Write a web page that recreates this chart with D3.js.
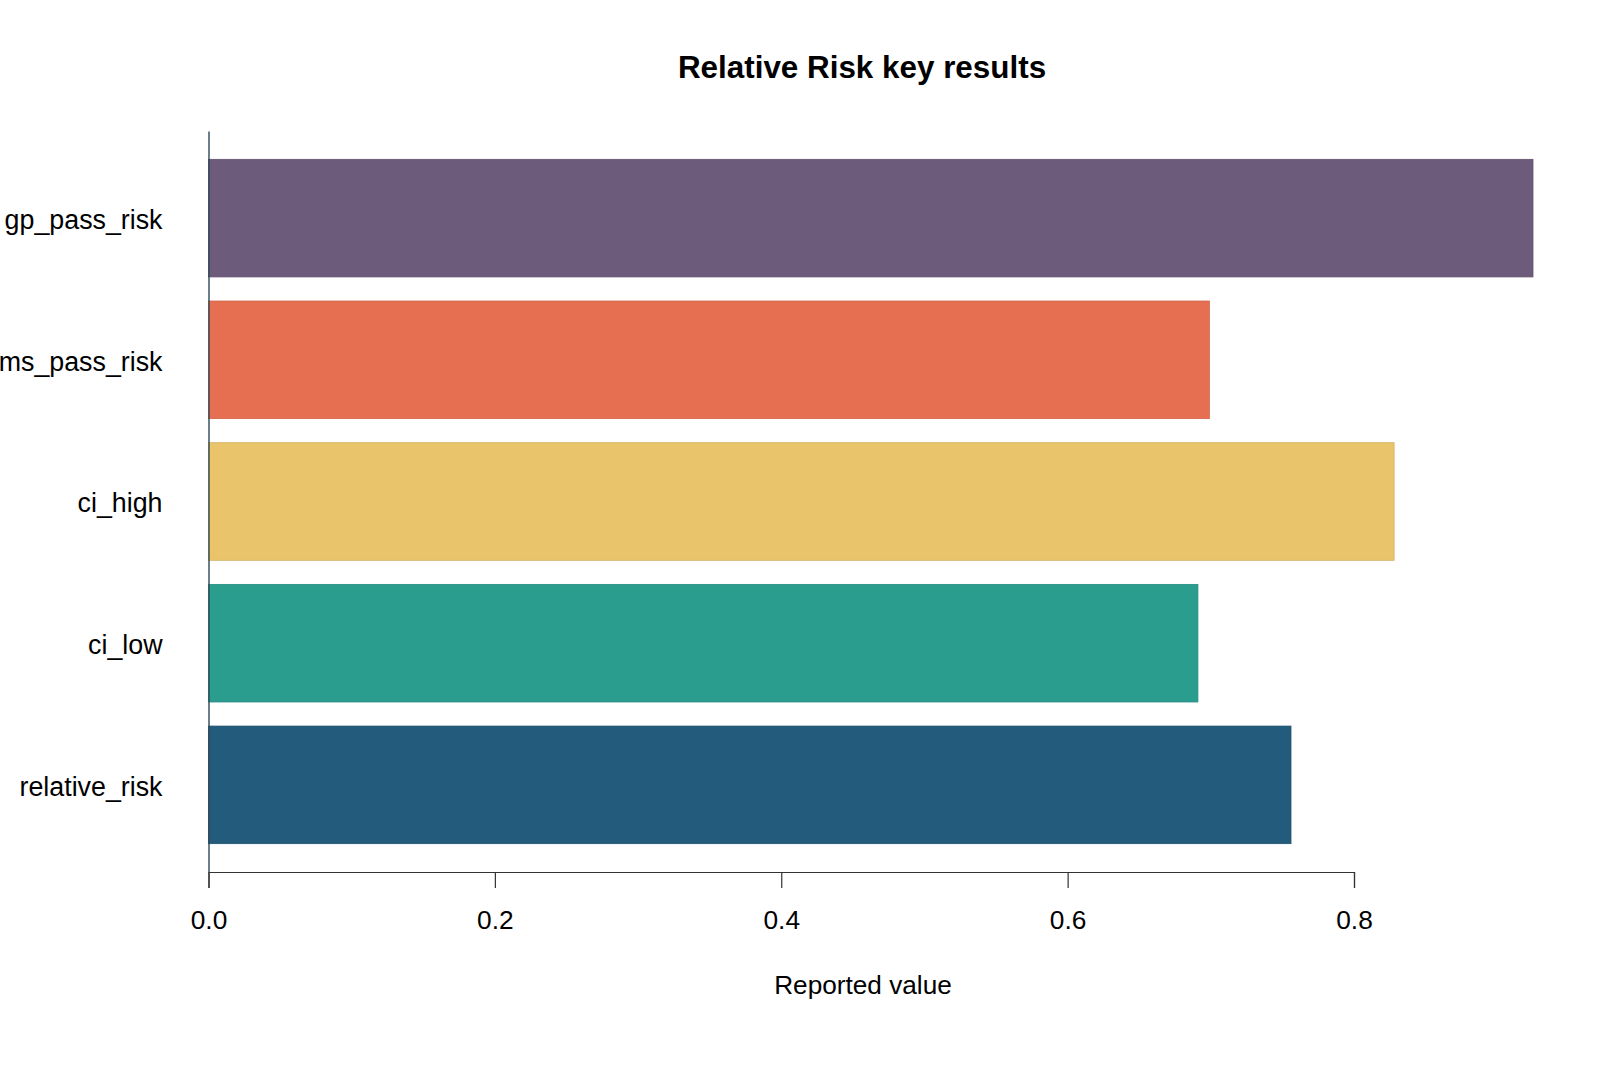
<!DOCTYPE html>
<html>
<head>
<meta charset="utf-8">
<script src="https://cdn.jsdelivr.net/npm/d3@7"></script>
<style>
  body { margin: 0; background: #fff; }
  svg { font-family: "Liberation Sans", Arial, sans-serif; }
</style>
</head>
<body>
<div id="chart"></div>
<script>
const CATEGORIES = ["gp_pass_risk", "ms_pass_risk", "ci_high", "ci_low", "relative_risk"];
const VALUES = [0.925, 0.699, 0.828, 0.691, 0.756];
const TICKS = [0, 0.2, 0.4, 0.6, 0.8];
const COLORS = ["#6c5b7b", "#e76f51", "#e9c46a", "#2a9d8f", "#225b7b"];

const WIDTH = 1600;
const HEIGHT = 1067;

const data = CATEGORIES.map((c, i) => ({ name: c, value: VALUES[i], color: COLORS[i] }));

const svg = d3.select('#chart')
              .append('svg')
              .attr('width', WIDTH)
              .attr('height', HEIGHT);

// scales
const X_SCALE = d3.scaleLinear()
                  .domain([0, 0.8])
                  .range([208.5, 1354]);
const Y_SCALE = d3.scaleBand()
                  .domain(CATEGORIES)
                  .range([131, 872])
                  .paddingInner(0.17)
                  .paddingOuter(0.2);

// bars
svg.selectAll('rect.bar')
   .data(data)
   .enter()
   .append('rect')
   .attr('class', 'bar')
   .attr('x', X_SCALE(0))
   .attr('y', d => Y_SCALE(d.name))
   .attr('width', d => X_SCALE(d.value) - X_SCALE(0))
   .attr('height', Y_SCALE.bandwidth())
   .attr('fill', d => d.color)
   .attr('stroke', d => d3.color(d.color).darker(0.3))
   .attr('stroke-width', 0.8);

// x axis
const X_AXIS = d3.axisBottom(X_SCALE)
                 .tickValues(TICKS)
                 .tickFormat(d3.format('.1f'))
                 .tickSize(16)
                 .tickPadding(22);
const gx = svg.append('g')
              .attr('transform', 'translate(0,872)')
              .call(X_AXIS);
gx.selectAll('path, line').attr('stroke', '#333').attr('stroke-width', 1.2);
gx.selectAll('text').attr('font-size', 26.3).attr('fill', '#000')
  .attr('font-family', '"Liberation Sans", Arial, sans-serif');

// y axis
const Y_AXIS = d3.axisLeft(Y_SCALE).tickSize(0).tickPadding(46);
const gy = svg.append('g')
              .attr('transform', 'translate(208.5,0)')
              .call(Y_AXIS);
gy.select('.domain').attr('stroke', '#2f4858').attr('stroke-width', 1.4);
gy.selectAll('text').attr('font-size', 26.8).attr('fill', '#000').attr('dy', '0.4em')
  .attr('font-family', '"Liberation Sans", Arial, sans-serif');

// title
svg.append('text')
   .attr('x', 862)
   .attr('y', 78)
   .attr('text-anchor', 'middle')
   .attr('font-size', 31.4)
   .attr('font-weight', 'bold')
   .text('Relative Risk key results');

// x label
svg.append('text')
   .attr('x', 863)
   .attr('y', 994)
   .attr('text-anchor', 'middle')
   .attr('font-size', 26.2)
   .text('Reported value');
</script>
</body>
</html>
